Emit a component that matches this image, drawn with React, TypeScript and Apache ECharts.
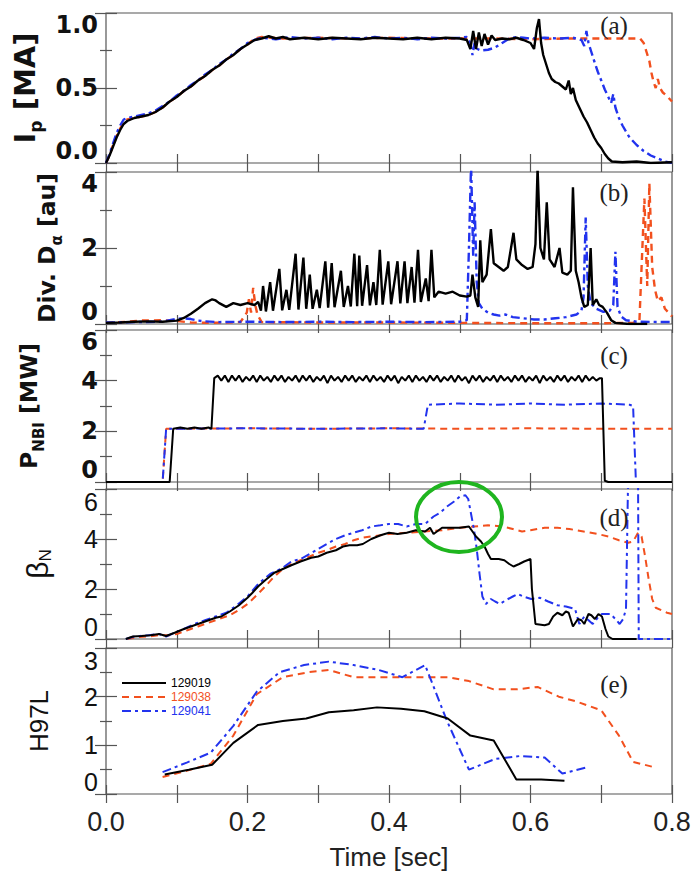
import React, { useEffect, useRef } from 'react';
import * as echarts from 'echarts';

const BLACK = '#000000';
const ORANGE = '#f2501e';
const BLUE = '#2233ee';
const SHOTS = ['129019', '129038', '129041'];

// (a) Ip [MA]
const ipBlack = [[0,0],[0.005,0.05],[0.01,0.11],[0.015,0.17],[0.02,0.22],[0.025,0.26],[0.03,0.28],[0.04,0.3],[0.05,0.31],[0.06,0.32],[0.07,0.34],[0.08,0.37],[0.09,0.41],[0.1,0.44],[0.11,0.48],[0.12,0.51],[0.13,0.55],[0.14,0.58],[0.15,0.62],[0.16,0.65],[0.17,0.69],[0.18,0.72],[0.19,0.76],[0.2,0.79],[0.21,0.82],[0.22,0.83],[0.23,0.845],[0.24,0.83],[0.25,0.84],[0.26,0.825],[0.28,0.835],[0.3,0.825],[0.32,0.835],[0.34,0.83],[0.36,0.825],[0.38,0.835],[0.4,0.83],[0.42,0.825],[0.44,0.835],[0.46,0.825],[0.48,0.835],[0.5,0.83],[0.51,0.82],[0.515,0.76],[0.519,0.88],[0.523,0.76],[0.527,0.87],[0.531,0.78],[0.535,0.86],[0.54,0.79],[0.545,0.85],[0.55,0.82],[0.56,0.83],[0.57,0.825],[0.58,0.835],[0.59,0.82],[0.6,0.8],[0.605,0.76],[0.609,0.9],[0.612,0.96],[0.615,0.8],[0.618,0.72],[0.622,0.66],[0.626,0.6],[0.63,0.56],[0.635,0.54],[0.64,0.53],[0.645,0.51],[0.65,0.49],[0.654,0.55],[0.657,0.46],[0.66,0.5],[0.664,0.42],[0.67,0.36],[0.675,0.31],[0.68,0.27],[0.685,0.22],[0.69,0.17],[0.695,0.13],[0.7,0.1],[0.705,0.06],[0.71,0.03],[0.715,0.01],[0.73,0.005],[0.75,0.01],[0.77,0.0],[0.8,0.005]];
const ipOrange = [[0,0],[0.005,0.05],[0.01,0.12],[0.015,0.18],[0.02,0.23],[0.025,0.27],[0.03,0.29],[0.04,0.3],[0.05,0.31],[0.06,0.32],[0.07,0.34],[0.08,0.37],[0.09,0.41],[0.1,0.44],[0.11,0.48],[0.12,0.51],[0.13,0.55],[0.14,0.58],[0.15,0.62],[0.16,0.65],[0.17,0.69],[0.18,0.72],[0.19,0.76],[0.2,0.79],[0.21,0.83],[0.22,0.84],[0.25,0.83],[0.3,0.835],[0.35,0.83],[0.4,0.835],[0.45,0.83],[0.5,0.83],[0.55,0.83],[0.6,0.825],[0.65,0.83],[0.7,0.83],[0.755,0.83],[0.76,0.8],[0.764,0.74],[0.768,0.68],[0.771,0.6],[0.774,0.54],[0.777,0.5],[0.78,0.56],[0.783,0.5],[0.787,0.47],[0.792,0.45],[0.796,0.43],[0.8,0.41]];
const ipBlue = [[0,0],[0.005,0.06],[0.01,0.13],[0.015,0.2],[0.02,0.25],[0.025,0.29],[0.03,0.3],[0.04,0.31],[0.05,0.32],[0.06,0.33],[0.07,0.35],[0.08,0.38],[0.09,0.41],[0.1,0.45],[0.11,0.48],[0.12,0.52],[0.13,0.55],[0.14,0.59],[0.15,0.62],[0.16,0.66],[0.17,0.69],[0.18,0.73],[0.19,0.76],[0.2,0.8],[0.21,0.82],[0.22,0.835],[0.24,0.825],[0.26,0.84],[0.28,0.83],[0.3,0.835],[0.32,0.825],[0.34,0.835],[0.36,0.83],[0.38,0.84],[0.4,0.83],[0.42,0.835],[0.44,0.825],[0.46,0.835],[0.48,0.83],[0.5,0.835],[0.51,0.84],[0.515,0.8],[0.518,0.72],[0.521,0.8],[0.525,0.76],[0.53,0.75],[0.54,0.755],[0.55,0.77],[0.56,0.8],[0.57,0.83],[0.58,0.84],[0.59,0.835],[0.6,0.83],[0.62,0.835],[0.64,0.83],[0.66,0.835],[0.672,0.82],[0.676,0.78],[0.679,0.88],[0.682,0.8],[0.686,0.74],[0.69,0.68],[0.695,0.61],[0.7,0.55],[0.705,0.49],[0.71,0.44],[0.714,0.4],[0.717,0.46],[0.72,0.37],[0.725,0.3],[0.73,0.25],[0.735,0.21],[0.74,0.17],[0.75,0.12],[0.76,0.08],[0.77,0.05],[0.78,0.03],[0.79,0.01],[0.8,0.0]];

// (b) Div. D-alpha [au]
const daBlack = [[0,0.03],[0.02,0.04],[0.04,0.06],[0.06,0.07],[0.08,0.06],[0.1,0.09],[0.11,0.16],[0.12,0.27],[0.13,0.4],[0.14,0.55],[0.15,0.65],[0.155,0.62],[0.16,0.55],[0.17,0.45],[0.18,0.55],[0.19,0.5],[0.2,0.55],[0.21,0.5],[0.215,0.58],[0.219,0.35],[0.222,1.0],[0.226,0.33],[0.232,1.1],[0.236,0.35],[0.245,1.45],[0.249,0.36],[0.255,0.9],[0.259,0.37],[0.268,1.85],[0.272,0.38],[0.279,1.75],[0.283,0.4],[0.288,1.3],[0.292,0.4],[0.298,0.9],[0.302,0.42],[0.31,1.65],[0.314,0.43],[0.319,1.6],[0.323,0.44],[0.332,1.4],[0.336,0.45],[0.342,1.0],[0.346,0.46],[0.351,1.85],[0.355,0.47],[0.358,1.8],[0.362,0.48],[0.369,1.55],[0.373,0.49],[0.378,1.1],[0.382,0.5],[0.387,1.95],[0.391,0.51],[0.399,1.65],[0.403,0.52],[0.412,1.65],[0.416,0.54],[0.422,1.65],[0.426,0.55],[0.432,1.5],[0.436,0.56],[0.441,1.95],[0.445,0.58],[0.452,1.2],[0.456,0.6],[0.46,1.95],[0.464,0.7],[0.47,0.85],[0.48,0.8],[0.49,0.85],[0.5,0.75],[0.51,0.72],[0.515,0.75],[0.518,1.3],[0.522,0.7],[0.526,0.45],[0.529,2.2],[0.532,1.1],[0.538,1.3],[0.544,2.5],[0.548,1.6],[0.555,1.5],[0.562,1.4],[0.568,1.5],[0.576,2.4],[0.58,1.7],[0.588,1.55],[0.596,1.45],[0.603,1.5],[0.607,2.1],[0.61,4.1],[0.614,2.0],[0.619,1.7],[0.623,3.2],[0.627,1.7],[0.634,1.5],[0.641,2.0],[0.645,1.35],[0.652,1.3],[0.657,1.4],[0.66,3.6],[0.664,1.4],[0.668,1.1],[0.672,0.7],[0.676,0.45],[0.681,0.5],[0.685,2.0],[0.688,0.5],[0.693,0.65],[0.697,0.5],[0.702,0.45],[0.708,0.3],[0.714,0.1],[0.72,0.03],[0.74,0.0],[0.765,0.0]];
const daOrange = [[0,0.03],[0.03,0.06],[0.05,0.09],[0.08,0.1],[0.1,0.08],[0.12,0.04],[0.15,0.03],[0.19,0.05],[0.199,0.3],[0.202,0.65],[0.205,0.3],[0.208,0.95],[0.211,0.5],[0.214,0.25],[0.22,0.05],[0.3,0.04],[0.4,0.04],[0.5,0.03],[0.6,0.02],[0.7,0.02],[0.745,0.03],[0.754,0.1],[0.757,1.5],[0.761,3.3],[0.765,1.0],[0.768,3.7],[0.772,1.5],[0.776,0.9],[0.78,0.6],[0.785,0.7],[0.79,0.4],[0.795,0.3],[0.8,0.2]];
const daBlue = [[0,0.04],[0.04,0.05],[0.08,0.06],[0.09,0.1],[0.1,0.14],[0.11,0.15],[0.12,0.13],[0.13,0.09],[0.14,0.07],[0.16,0.05],[0.2,0.06],[0.25,0.05],[0.3,0.06],[0.35,0.05],[0.4,0.06],[0.45,0.05],[0.5,0.06],[0.51,0.1],[0.513,2.0],[0.516,4.2],[0.519,1.8],[0.521,3.2],[0.524,1.1],[0.527,0.55],[0.532,0.4],[0.54,0.3],[0.548,0.25],[0.556,0.22],[0.565,0.25],[0.575,0.18],[0.59,0.15],[0.605,0.12],[0.62,0.12],[0.635,0.15],[0.65,0.18],[0.665,0.25],[0.672,0.35],[0.675,0.7],[0.678,2.8],[0.681,1.0],[0.685,0.55],[0.693,0.4],[0.703,0.32],[0.712,0.35],[0.717,0.5],[0.72,1.9],[0.723,0.45],[0.728,0.2],[0.735,0.1],[0.75,0.06],[0.8,0.05]];

// (c) P_NBI [MW]
const pnbiBlack = [[0,0],[0.09,0],[0.095,2.1],[0.105,2.15],[0.115,2.1],[0.125,2.15],[0.135,2.1],[0.145,2.15],[0.149,2.1],[0.153,4.1],
[0.158,4.2],[0.163,4.0],[0.168,4.2],[0.173,3.95],[0.178,4.2],[0.183,4.0],[0.188,4.2],[0.193,3.95],[0.198,4.15],[0.203,4.0],[0.208,4.2],[0.213,3.95],[0.218,4.2],[0.223,4.0],[0.228,4.15],[0.233,3.95],[0.238,4.2],[0.243,4.0],[0.248,4.2],[0.253,3.95],[0.258,4.15],[0.263,4.0],[0.268,4.2],[0.273,3.95],[0.278,4.2],[0.283,4.0],[0.288,4.2],[0.293,3.95],[0.298,4.15],[0.303,4.0],[0.308,4.2],[0.313,3.9],[0.318,4.2],[0.323,4.0],[0.328,4.15],[0.333,3.95],[0.338,4.2],[0.343,4.0],[0.348,4.2],[0.353,3.95],[0.358,4.15],[0.363,4.0],[0.368,4.2],[0.373,3.95],[0.378,4.2],[0.383,4.0],[0.388,4.15],[0.393,3.95],[0.398,4.2],[0.403,4.0],[0.408,4.2],[0.413,3.9],[0.418,4.15],[0.423,4.0],[0.428,4.2],[0.433,3.95],[0.438,4.2],[0.443,4.0],[0.448,4.15],[0.453,3.95],[0.458,4.2],[0.463,4.0],[0.468,4.2],[0.473,3.95],[0.478,4.15],[0.483,4.0],[0.488,4.2],[0.493,3.95],[0.498,4.2],[0.503,4.0],[0.508,4.15],[0.513,3.9],[0.518,4.2],[0.523,4.0],[0.528,4.2],[0.533,3.95],[0.538,4.15],[0.543,4.0],[0.548,4.2],[0.553,3.95],[0.558,4.2],[0.563,4.0],[0.568,4.15],[0.573,3.95],[0.578,4.2],[0.583,4.0],[0.588,4.2],[0.593,3.95],[0.598,4.15],[0.603,4.0],[0.608,4.2],[0.613,3.9],[0.618,4.2],[0.623,4.0],[0.628,4.15],[0.633,3.95],[0.638,4.2],[0.643,4.0],[0.648,4.2],[0.653,3.95],[0.658,4.15],[0.663,4.0],[0.668,4.2],[0.673,3.95],[0.678,4.2],[0.683,4.0],[0.688,4.15],[0.693,4.0],[0.698,4.1],[0.701,4.1],[0.705,0.05],[0.71,0],[0.8,0]];
const pnbiOrange = [[0,0],[0.08,0],[0.085,2.1],[0.2,2.12],[0.3,2.1],[0.4,2.12],[0.5,2.1],[0.6,2.12],[0.7,2.1],[0.8,2.1]];
const pnbiBlue = [[0,0],[0.08,0],[0.085,2.1],[0.2,2.12],[0.3,2.1],[0.4,2.12],[0.449,2.1],[0.455,3.05],[0.5,3.1],[0.55,3.05],[0.6,3.1],[0.65,3.05],[0.7,3.1],[0.74,3.05],[0.745,3.0],[0.749,0],[0.8,0]];

// (d) beta_N
const betaBlack = [[0.028,0],[0.038,0.1],[0.05,0.12],[0.063,0.15],[0.075,0.2],[0.085,0.12],[0.097,0.25],[0.11,0.4],[0.125,0.55],[0.14,0.7],[0.155,0.85],[0.163,0.9],[0.175,1.1],[0.188,1.35],[0.2,1.65],[0.207,1.85],[0.215,2.1],[0.225,2.35],[0.238,2.65],[0.25,2.8],[0.262,2.95],[0.275,3.1],[0.29,3.25],[0.3,3.3],[0.312,3.45],[0.325,3.55],[0.335,3.7],[0.344,3.75],[0.355,3.75],[0.363,3.8],[0.375,4.0],[0.388,4.15],[0.4,4.25],[0.412,4.2],[0.425,4.25],[0.438,4.35],[0.451,4.3],[0.458,4.45],[0.463,4.2],[0.475,4.45],[0.49,4.45],[0.5,4.45],[0.513,4.5],[0.518,4.3],[0.523,4.1],[0.53,3.9],[0.535,3.7],[0.54,3.4],[0.544,3.2],[0.555,3.2],[0.563,3.15],[0.57,3.0],[0.576,2.9],[0.584,3.0],[0.591,3.1],[0.6,3.2],[0.602,2.0],[0.607,0.6],[0.62,0.55],[0.626,0.6],[0.632,0.9],[0.638,1.05],[0.645,0.95],[0.65,1.1],[0.654,1.05],[0.66,0.5],[0.667,0.8],[0.672,0.75],[0.676,0.6],[0.682,1.0],[0.686,0.95],[0.691,0.8],[0.696,1.0],[0.701,0.9],[0.706,0.4],[0.71,0.1],[0.716,0],[0.75,0]];
const betaOrange = [[0.03,0],[0.045,0.08],[0.06,0.1],[0.075,0.15],[0.09,0.15],[0.1,0.2],[0.115,0.35],[0.13,0.5],[0.145,0.65],[0.16,0.8],[0.175,0.95],[0.19,1.2],[0.2,1.4],[0.213,1.75],[0.225,2.1],[0.238,2.5],[0.25,2.8],[0.262,3.0],[0.275,3.15],[0.288,3.3],[0.3,3.45],[0.312,3.55],[0.325,3.7],[0.338,3.8],[0.35,3.95],[0.362,4.05],[0.375,4.1],[0.388,4.15],[0.4,4.2],[0.425,4.25],[0.45,4.3],[0.475,4.35],[0.5,4.45],[0.52,4.5],[0.54,4.55],[0.56,4.5],[0.575,4.4],[0.588,4.3],[0.6,4.35],[0.62,4.45],[0.638,4.45],[0.655,4.4],[0.675,4.3],[0.695,4.2],[0.71,4.1],[0.725,3.95],[0.738,3.85],[0.745,3.9],[0.752,4.25],[0.757,4.1],[0.762,3.3],[0.767,2.4],[0.772,1.6],[0.777,1.25],[0.785,1.15],[0.793,1.05],[0.8,1.0]];
const betaBlue = [[0.028,0],[0.04,0.1],[0.06,0.15],[0.075,0.2],[0.085,0.1],[0.097,0.25],[0.11,0.4],[0.125,0.6],[0.14,0.75],[0.155,0.9],[0.17,1.05],[0.185,1.35],[0.2,1.7],[0.215,2.2],[0.232,2.6],[0.25,2.85],[0.262,3.1],[0.275,3.2],[0.288,3.4],[0.3,3.6],[0.312,3.8],[0.325,4.0],[0.338,4.15],[0.35,4.25],[0.362,4.35],[0.375,4.5],[0.388,4.55],[0.4,4.6],[0.413,4.6],[0.425,4.5],[0.438,4.6],[0.451,4.6],[0.463,4.9],[0.472,5.05],[0.482,5.3],[0.492,5.5],[0.5,5.7],[0.508,5.75],[0.512,5.6],[0.516,5.0],[0.52,4.4],[0.524,3.6],[0.528,2.6],[0.532,1.7],[0.537,1.4],[0.544,1.6],[0.55,1.5],[0.557,1.4],[0.565,1.55],[0.575,1.7],[0.582,1.8],[0.59,1.7],[0.601,1.6],[0.613,1.65],[0.625,1.5],[0.638,1.35],[0.65,1.3],[0.663,1.2],[0.669,0.6],[0.676,0.9],[0.682,0.75],[0.688,0.6],[0.695,0.85],[0.701,1.0],[0.713,1.0],[0.72,0.8],[0.726,0.6],[0.731,0.8],[0.735,1.2],[0.738,6.5],[0.752,6.5],[0.753,0],[0.8,0]];

// (e) H97L
const h97Black = [[0.083,0.4],[0.117,0.5],[0.15,0.6],[0.18,1.05],[0.215,1.42],[0.25,1.5],[0.283,1.55],[0.315,1.68],[0.35,1.72],[0.383,1.78],[0.417,1.75],[0.45,1.7],[0.483,1.55],[0.515,1.2],[0.548,1.1],[0.58,0.3],[0.615,0.3],[0.648,0.27]];
const h97Orange = [[0.08,0.35],[0.115,0.48],[0.148,0.62],[0.18,1.2],[0.213,2.05],[0.25,2.4],[0.285,2.5],[0.315,2.55],[0.35,2.4],[0.383,2.4],[0.417,2.4],[0.45,2.4],[0.483,2.4],[0.513,2.32],[0.548,2.15],[0.58,2.15],[0.61,2.2],[0.64,2.0],[0.665,1.9],[0.7,1.72],[0.725,1.2],[0.745,0.66],[0.775,0.55]];
const h97Blue = [[0.08,0.45],[0.115,0.65],[0.148,0.85],[0.18,1.4],[0.213,2.1],[0.245,2.5],[0.28,2.65],[0.315,2.72],[0.35,2.65],[0.385,2.55],[0.419,2.4],[0.451,2.65],[0.482,1.5],[0.513,0.5],[0.55,0.72],[0.585,0.78],[0.62,0.75],[0.645,0.42],[0.68,0.55]];

const X_TICKS = [0, 0.8, 0.1];
const PANEL_LETTERS = ['(a)', '(b)', '(c)', '(d)', '(e)'];

const GRIDS = [
  { top: 13, height: 150 },
  { top: 172, height: 152 },
  { top: 330, height: 152 },
  { top: 489, height: 150 },
  { top: 648, height: 150 },
];
const LETTER_POS = [[614, 25], [614, 192], [614, 355], [614, 517], [614, 684]];

const BOLD = '"DejaVu Sans", "Liberation Sans", Arial, sans-serif';
const REG = '"Liberation Sans", Arial, sans-serif';

const Y_CFG = [
  { min: 0, max: 1, interval: 0.5, dec: 1, bold: true, name: '{bi|I}{si|p}{bi| [MA]}', gap: 62 },
  { min: 0, max: 4, interval: 2, dec: 0, bold: true, name: '{b|Div. D}{s|α}{b| [au]}', gap: 42 },
  { min: 0, max: 6, interval: 2, dec: 0, bold: true, name: '{b|P}{s|NBI}{b| [MW]}', gap: 60 },
  { min: 0, max: 6, interval: 2, dec: 0, bold: false, name: '{r|β}{rs|N}', gap: 52 },
  { min: 0, max: 3, interval: 1, dec: 0, bold: false, name: '{r2|H97L}', gap: 50 },
];

const PANEL_DATA = [
  [ipBlack, ipOrange, ipBlue],
  [daBlack, daOrange, daBlue],
  [pnbiBlack, pnbiOrange, pnbiBlue],
  [betaBlack, betaOrange, betaBlue],
  [h97Black, h97Orange, h97Blue],
];

const STYLES = [
  { color: BLACK, type: 'solid' as any },
  { color: ORANGE, type: [7, 5] as any },
  { color: BLUE, type: [9, 4, 3, 4] as any },
];

function buildOption() {
  const grid: any[] = [];
  const xAxis: any[] = [];
  const yAxis: any[] = [];
  const series: any[] = [];
  const rich = {
    bi: { fontFamily: BOLD, fontWeight: 'bold', fontSize: 29, color: '#111', lineHeight: 38, verticalAlign: 'middle' },
    si: { fontFamily: BOLD, fontWeight: 'bold', fontSize: 17, color: '#111', lineHeight: 18, verticalAlign: 'bottom' },
    b: { fontFamily: BOLD, fontWeight: 'bold', fontSize: 23.5, color: '#111', lineHeight: 34, verticalAlign: 'middle' },
    s: { fontFamily: BOLD, fontWeight: 'bold', fontSize: 15, color: '#111', lineHeight: 16, verticalAlign: 'bottom' },
    r: { fontFamily: REG, fontSize: 30, color: '#111', lineHeight: 34, verticalAlign: 'middle' },
    rs: { fontFamily: REG, fontSize: 17, color: '#111', lineHeight: 16, verticalAlign: 'bottom' },
    r2: { fontFamily: REG, fontSize: 26, color: '#111', lineHeight: 34, verticalAlign: 'middle' },
  };
  GRIDS.forEach((g, i) => {
    grid.push({ left: 106, right: 22, top: g.top, height: g.height, show: true, borderColor: '#555', borderWidth: 1.2, backgroundColor: 'transparent' });
    const isLast = i === GRIDS.length - 1;
    const xBase = {
      type: 'value', gridIndex: i, min: X_TICKS[0], max: X_TICKS[1], interval: X_TICKS[2],
      axisLine: { show: false }, splitLine: { show: false },
      axisTick: { show: true, inside: true, length: 9, lineStyle: { color: '#555', width: 1.2 } },
    };
    xAxis.push({
      ...xBase, position: 'bottom',
      axisLabel: isLast ? {
        show: true, margin: 14, fontSize: 27, fontFamily: REG, color: '#222',
        formatter: (v: number) => (Math.round(v * 10) % 2 === 0 ? v.toFixed(1) : ''),
      } : { show: false },
      name: isLast ? 'Time [sec]' : '', nameLocation: 'middle', nameGap: 50,
      nameTextStyle: { fontSize: 26, fontFamily: REG, color: '#222' },
    });
    xAxis.push({ ...xBase, position: 'top', axisLabel: { show: false } });
    const c = Y_CFG[i];
    const yBase = {
      type: 'value', gridIndex: i, min: c.min, max: c.max, interval: c.interval,
      axisLine: { show: false }, splitLine: { show: false },
      axisTick: { show: true, inside: true, length: 11, lineStyle: { color: '#555', width: 1.2 } },
      minorTick: { show: true, splitNumber: 2, length: 6, lineStyle: { color: '#555', width: 1.2 } },
    };
    yAxis.push({
      ...yBase, position: 'left',
      axisLabel: {
        show: true, margin: 8,
        fontFamily: c.bold ? BOLD : REG, fontWeight: c.bold ? 'bold' : 'normal',
        fontSize: c.bold ? 24 : 25, color: '#111',
        verticalAlignMinLabel: 'bottom', verticalAlignMaxLabel: 'top',
        formatter: (v: number) => v.toFixed(c.dec),
      },
      name: c.name, nameLocation: 'middle', nameRotate: 90, nameGap: c.gap,
      nameTextStyle: { rich },
    });
    yAxis.push({ ...yBase, position: 'right', axisLabel: { show: false } });
    PANEL_DATA[i].forEach((data, k) => {
      series.push({
        type: 'line', name: SHOTS[k], xAxisIndex: 2 * i, yAxisIndex: 2 * i,
        data, symbol: 'none', showSymbol: false, clip: true,
        lineStyle: { color: STYLES[k].color, type: STYLES[k].type, width: i < 2 ? 2.4 : 2 },
        itemStyle: { color: STYLES[k].color },
        z: k === 0 ? 3 : 2,
      });
    });
  });

  const graphic: any[] = PANEL_LETTERS.map((t, i) => ({
    type: 'text', x: LETTER_POS[i][0], y: LETTER_POS[i][1], z: 50,
    style: { text: t, font: '25px "Liberation Serif", "DejaVu Serif", serif', fill: '#222', align: 'center', verticalAlign: 'middle', textAlign: 'center', textVerticalAlign: 'middle' },
  }));
  graphic.push({
    type: 'ellipse', z: 60,
    shape: { cx: 459, cy: 517, rx: 43, ry: 35 },
    style: { fill: 'none', stroke: '#1fb51f', lineWidth: 4 },
  });

  return {
    animation: false,
    backgroundColor: '#ffffff',
    grid, xAxis, yAxis, series, graphic,
    legend: {
      show: true, orient: 'vertical', left: 116, top: 672, itemWidth: 44, itemHeight: 12, itemGap: 2,
      selectedMode: false,
      itemStyle: { opacity: 0, borderWidth: 0 },
      data: [
        { name: SHOTS[0], textStyle: { color: BLACK } },
        { name: SHOTS[1], textStyle: { color: ORANGE } },
        { name: SHOTS[2], textStyle: { color: BLUE } },
      ],
      textStyle: { fontSize: 12, fontFamily: REG },
    },
  };
}

export default function App() {
  const ref = useRef<HTMLDivElement>(null);
  useEffect(() => {
    document.body.style.margin = '0';
    if (!ref.current) return;
    const chart = echarts.init(ref.current, undefined, { renderer: 'svg' });
    chart.setOption(buildOption() as any);
    return () => chart.dispose();
  }, []);
  return <div ref={ref} style={{ position: 'fixed', left: 0, top: 0, width: 694, height: 871, background: '#fff' }} />;
}
